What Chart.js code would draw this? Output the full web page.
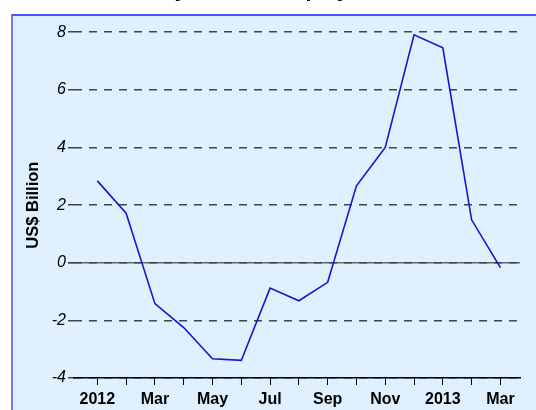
<!DOCTYPE html>
<html>
<head>
<meta charset="utf-8">
<script src="https://cdn.jsdelivr.net/npm/chart.js@4/dist/chart.umd.min.js"></script>
<style>
  html, body { margin: 0; padding: 0; background: #ffffff; overflow: hidden; width: 536px; height: 410px; }
  #panel { position: absolute; left: 11px; top: 14px; width: 600px; height: 500px;
           background: #dff0ff; border-top: 2px solid #5252ff; border-left: 2px solid #7a7aff; }
  #wrap { position: absolute; left: 0; top: -30px; width: 536px; height: 460px; }
</style>
</head>
<body>
<div id="panel"></div>
<div id="wrap"><canvas id="c" width="536" height="460"></canvas></div>
<script>
const chartTitle = "Monthly Portfolio Equity Flows";
const yAxisTitle = "US$ Billion";
const months = ["Jan 2012","Feb 2012","Mar 2012","Apr 2012","May 2012","Jun 2012","Jul 2012",
                "Aug 2012","Sep 2012","Oct 2012","Nov 2012","Dec 2012","Jan 2013","Feb 2013","Mar 2013"];
const xTickLabels = ["2012","","Mar","","May","","Jul","","Sep","","Nov","","2013","","Mar"];
const flows = [2.84, 1.72, -1.42, -2.25, -3.33, -3.39, -0.88, -1.32, -0.68, 2.67, 4.0, 7.91, 7.46, 1.49, -0.17];
const yMin = -4, yMax = 8, yStep = 2;

const points = flows.map((v, i) => ({ x: i, y: v }));

const zeroLine = {
  id: 'zeroLine',
  beforeDraw(chart) {
    const { ctx, chartArea, scales } = chart;
    const y = scales.y.getPixelForValue(0);
    ctx.save();
    ctx.strokeStyle = '#666666';
    ctx.lineWidth = 1.5;
    ctx.beginPath();
    ctx.moveTo(chartArea.left - 6, y);
    ctx.lineTo(chartArea.right, y);
    ctx.stroke();
    ctx.restore();
  }
};

new Chart(document.getElementById('c'), {
  type: 'line',
  data: {
    datasets: [{
      label: 'Flows',
      data: points,
      borderColor: '#1515cf',
      borderWidth: 1.6,
      pointRadius: 0,
      tension: 0,
      fill: false
    }]
  },
  options: {
    responsive: false,
    animation: false,
    layout: { padding: { left: 0, right: 16, top: 0, bottom: 0 } },
    plugins: {
      legend: { display: false },
      tooltip: { enabled: false },
      title: {
        display: true,
        text: chartTitle,
        color: '#000',
        font: { family: 'Liberation Sans, Arial, sans-serif', size: 21, weight: 'bold' },
        padding: { top: 9, bottom: 28 }
      }
    },
    scales: {
      x: {
        type: 'linear',
        min: -0.81,
        max: 14.68,
        afterBuildTicks(scale) {
          scale.ticks = months.map((m, i) => ({ value: i }));
        },
        afterFit(scale) { scale.height = 52; },
        ticks: {
          autoSkip: false,
          maxRotation: 0,
          padding: 5,
          color: '#000',
          font: { family: 'Liberation Sans, Arial, sans-serif', size: 16, weight: 'bold' },
          callback: (v) => xTickLabels[v] !== undefined ? xTickLabels[v] : ''
        },
        grid: {
          display: true,
          drawOnChartArea: false,
          drawTicks: true,
          tickLength: 7,
          color: '#000',
          lineWidth: 1
        },
        border: { display: true, color: '#000', width: 1.5 }
      },
      y: {
        min: yMin,
        max: yMax,
        afterFit(scale) { scale.width = 74; },
        ticks: {
          stepSize: yStep,
          padding: 2,
          color: '#000',
          font: { family: 'Liberation Sans, Arial, sans-serif', size: 16, style: 'italic' }
        },
        grid: {
          color: '#444',
          lineWidth: 1.5,
          tickLength: 6,
          tickColor: '#444',
          tickWidth: 1.5
        },
        border: { display: false, dash: [8, 7] },
        title: {
          display: true,
          text: yAxisTitle,
          color: '#000',
          font: { family: 'Liberation Sans, Arial, sans-serif', size: 16.5, weight: 'bold' },
          padding: { top: 24, bottom: 0 }
        }
      }
    }
  },
  plugins: [zeroLine]
});
</script>
</body>
</html>
